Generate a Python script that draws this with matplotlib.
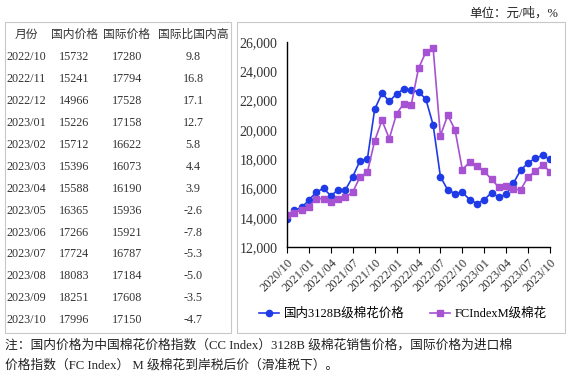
import matplotlib.pyplot as plt
from matplotlib.patches import Rectangle

plt.rcParams['font.family'] = ['Liberation Serif', 'Noto Sans CJK SC', 'DejaVu Sans']

# monthly series 2020/10 .. 2023/10
months = [f'{2020 + (9 + i) // 12}/{(9 + i) % 12 + 1:02d}' for i in range(37)]
domestic = [13900, 14500, 14700, 15200, 15750, 16000, 15500, 15900, 15900, 16800,
            17900, 18000, 21400, 22500, 21950, 22450, 22800, 22700, 22600, 22100,
            20350, 16800, 15900, 15650,
            15732, 15241, 14966, 15226, 15712, 15396, 15588, 16365, 17266, 17724,
            18083, 18251, 17996]
international = [14200, 14300, 14550, 14750, 15300, 15300, 15050, 15300, 15400, 15750,
                 16800, 17100, 19250, 20650, 19400, 21100, 21800, 21700, 24200, 25300,
                 25600, 19600, 21000, 20000,
                 17280, 17794, 17528, 17158, 16622, 16073, 16190, 15936, 15921, 16787,
                 17184, 17608, 17150]

# table
table_months = ['2022/10', '2022/11', '2022/12', '2023/01', '2023/02', '2023/03', '2023/04',
                '2023/05', '2023/06', '2023/07', '2023/08', '2023/09', '2023/10']
table_dom = [15732, 15241, 14966, 15226, 15712, 15396, 15588, 16365, 17266, 17724, 18083, 18251, 17996]
table_int = [17280, 17794, 17528, 17158, 16622, 16073, 16190, 15936, 15921, 16787, 17184, 17608, 17150]
table_gap = ['9.8', '16.8', '17.1', '12.7', '5.8', '4.4', '3.9', '-2.6', '-7.8', '-5.3', '-5.0', '-3.5', '-4.7']
headers = ['月份', '国内价格', '国际价格', '国际比国内高']

W, H = 574, 375
fig = plt.figure(figsize=(W / 100, H / 100), dpi=100)


def fx(x):
    return x / W


def fy(y):
    return 1 - y / H


# boxes
fig.patches.append(Rectangle((fx(5), fy(333)), fx(226), (333 - 22) / H, transform=fig.transFigure,
                             fill=False, edgecolor='#c8c8c8', linewidth=0.8))
fig.patches.append(Rectangle((fx(237), fy(333)), fx(328), (333 - 22) / H, transform=fig.transFigure,
                             fill=False, edgecolor='#c8c8c8', linewidth=0.8))

# table text
col_x = [26, 74, 127, 193]
for cx, h in zip(col_x, headers):
    fig.text(fx(cx), fy(34), h, ha='center', va='center', fontsize=8.5, family='Noto Sans CJK SC',
             color='#333333')
for i in range(len(table_months)):
    yy = fy(57.3 + i * 21.9)
    row = [table_months[i], str(table_dom[i]), str(table_int[i]), table_gap[i]]
    for cx, t in zip(col_x, row):
        fig.text(fx(cx), yy, t, ha='center', va='center', fontsize=8.7, color='#333333')

fig.text(fx(558), fy(13), '单位：元/吨，%', ha='right', va='center', fontsize=9, color='#222222')

# chart
ax = fig.add_axes([fx(287), fy(247), (550 - 287) / W, (247 - 42) / H])
x = list(range(len(months)))
ax.plot(x, domestic, color='#1f3be8', marker='o', markersize=4.5, linewidth=1.2,
        label='国内3128B级棉花价格')
ax.plot(x, international, color='#a652d2', marker='s', markersize=4.5, linewidth=1.2,
        label='FCIndexM级棉花')
ax.set_xlim(0, 36)
ax.set_ylim(12000, 26000)
ax.set_yticks(range(12000, 26001, 2000))
ax.set_yticklabels([f'{v:,}' for v in range(12000, 26001, 2000)])
ax.set_xticks(x[::3])
ax.set_xticklabels(months[::3], rotation=45, ha='right', rotation_mode='anchor')
ax.tick_params(axis='y', length=0, pad=7, labelsize=10, labelcolor='#333333')
ax.tick_params(axis='x', length=4, direction='out', pad=3, labelsize=9, labelcolor='#333333')
for s in ['top', 'right']:
    ax.spines[s].set_visible(False)
ax.spines['left'].set_linewidth(1.0)
ax.spines['bottom'].set_linewidth(1.0)

fig.legend(loc='center', bbox_to_anchor=(fx(403), fy(314)), ncol=2, frameon=False,
           fontsize=9, handlelength=1.6, columnspacing=2.0, handletextpad=0.4)

# note
fig.text(fx(5), fy(345), '注：国内价格为中国棉花价格指数（CC Index）3128B 级棉花销售价格，国际价格为进口棉',
         ha='left', va='center', fontsize=9.2, color='#222222')
fig.text(fx(5), fy(365), '价格指数（FC Index） M 级棉花到岸税后价（滑准税下）。',
         ha='left', va='center', fontsize=9.2, color='#222222')

plt.savefig('out.png', dpi=100)
